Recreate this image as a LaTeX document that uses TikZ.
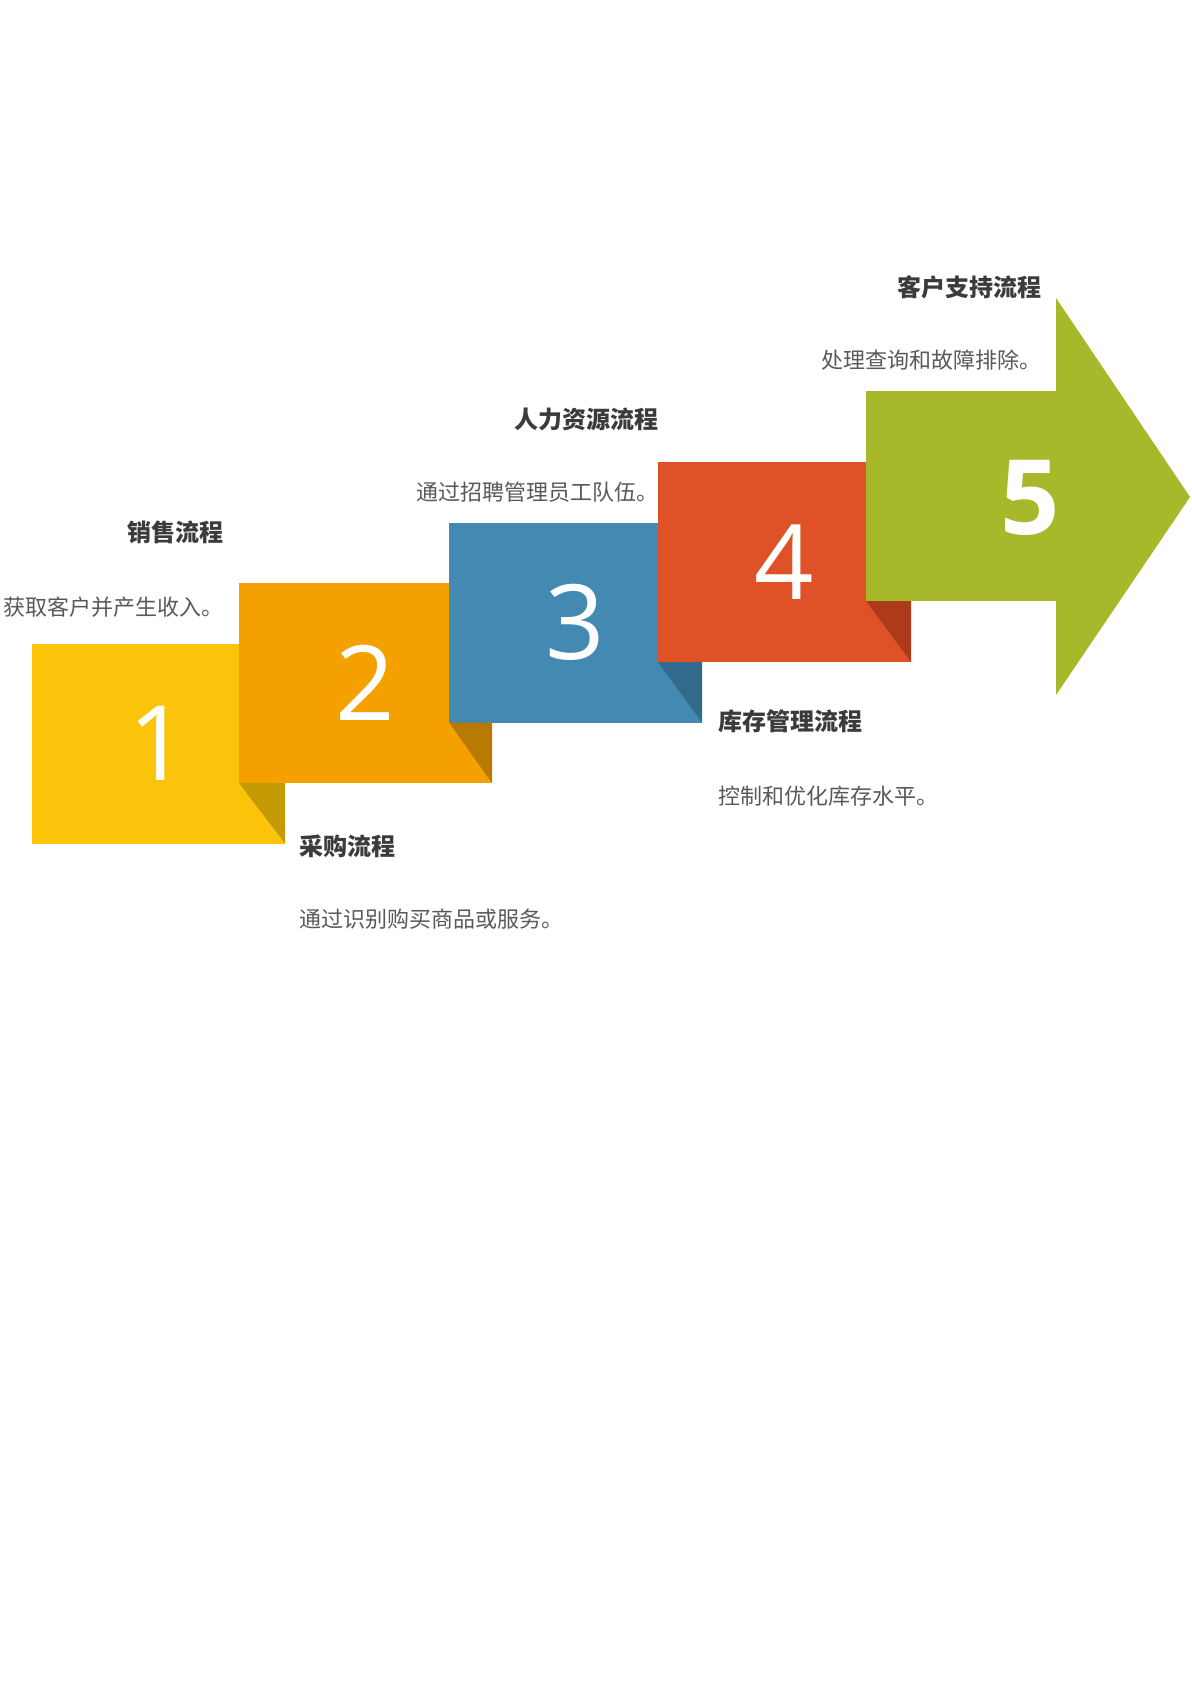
\documentclass[tikz,border=0pt]{standalone}
\usepackage{fontspec}
\newfontfamily\cjk{Noto Sans CJK SC}
\newfontfamily\numfont{Open Sans}
\usepackage{tikz}
\usetikzlibrary{calc}

\definecolor{yel}{HTML}{FBC30A}
\definecolor{yeldark}{HTML}{C49A05}
\definecolor{ora}{HTML}{F4A100}
\definecolor{oradark}{HTML}{B97A03}
\definecolor{blu}{HTML}{4389B2}
\definecolor{bludark}{HTML}{316A8A}
\definecolor{red}{HTML}{DF5227}
\definecolor{reddark}{HTML}{AE3A1C}
\definecolor{grn}{HTML}{A7B82B}
\definecolor{titlegray}{HTML}{3B3B3B}
\definecolor{descgray}{HTML}{595959}

\begin{document}
\begin{tikzpicture}[x=0.5pt,y=-0.5pt]
		\tikzstyle{stepbox}=[rectangle,minimum width=126.5pt,minimum height=100pt,
							inner sep=0pt, outer sep=0pt]
		\tikzstyle{digit}=[text=white,inner sep=0pt,
							font=\numfont\fontsize{52}{52}\selectfont]
		\tikzstyle{title}=[text=titlegray,inner sep=0pt,
							font=\cjk\bfseries\fontsize{12}{12}\selectfont]
		\tikzstyle{desc}=[text=descgray,inner sep=0pt,
							font=\cjk\fontsize{11}{11}\selectfont]

		\useasboundingbox (0,0) rectangle (1191,1684);

		% steps 1-4
		\foreach \name/\x/\y/\col in {s1/158.5/743.5/yel, s2/365.5/683/ora,
				s3/575.5/622.5/blu, s4/784.5/562/red}
			\node[stepbox,fill=\col] (\name) at (\x,\y) {};

		% step 5 (arrow)
		\node[stepbox,fill=grn,minimum width=95pt,minimum height=105pt] (s5) at (961,496) {};
		\fill[grn] (s5.north east) -- ++(0,-93) -- ++(134,199) -- ++(-134,198)
			-- (s5.south east) -- cycle;

		% folds
		\foreach \a/\b/\col in {s1/s2/yeldark, s2/s3/oradark, s3/s4/bludark, s4/s5/reddark}
			\fill[\col] (\b.south west) -- (\b.south west -| \a.east) -- (\a.south east) -- cycle;

		% numbers
		\foreach \name/\num in {s1/1, s2/2, s3/3, s4/4}
			\node[digit] (n\num) at (\name.center) {\num};
		\node[digit,font=\numfont\bfseries\fontsize{52}{52}\selectfont] (n5) at (1030,498) {5};

		% labels above
		\node[title,anchor=east] (t1) at (224,532) {销售流程};
		\node[desc,anchor=east] (d1) at (224,607) {获取客户并产生收入。};
		\node[title,anchor=east] (t3) at (659,419) {人力资源流程};
		\node[desc,anchor=east] (d3) at (659,492) {通过招聘管理员工队伍。};
		\node[title,anchor=east] (t5) at (1042,287) {客户支持流程};
		\node[desc,anchor=east] (d5) at (1042,360) {处理查询和故障排除。};

		% labels below
		\node[title,anchor=west] (t2) at (299,846) {采购流程};
		\node[desc,anchor=west] (d2) at (299,919) {通过识别购买商品或服务。};
		\node[title,anchor=west] (t4) at (718,721) {库存管理流程};
		\node[desc,anchor=west] (d4) at (718,796) {控制和优化库存水平。};
	\end{tikzpicture}
\end{document}
